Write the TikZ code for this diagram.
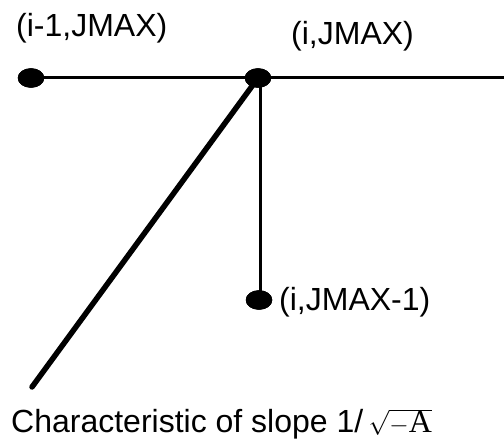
\documentclass[tikz,border=0pt]{standalone}
\usepackage{fontspec}
\setmainfont{Liberation Sans}
\newfontfamily\serifA{Liberation Serif}
\usetikzlibrary{shapes.geometric}
\begin{document}
\begin{tikzpicture}[x=1pt,y=-1pt,
  dot/.style={ellipse,fill=black,draw=black,minimum width=26pt,minimum height=19pt,inner sep=0pt},
  lbl/.style={anchor=base west,inner sep=0pt,font=\fontsize{32}{38}\selectfont},
  thin/.style={line width=3pt},
  thick line/.style={line width=5.5pt}]
\useasboundingbox (0,0) rectangle (504,443);
\coordinate (rend) at (504,78);
\coordinate (cend) at (32,387);
\node[dot] (a) at (31,78) {};
\node[dot] (b) at (258,78) {};
\node[dot] (c) at (259,300) {};
\draw[thin] (a.center) -- (b.center) -- (rend);
\draw[thin] (b.center) ++(2,0) coordinate (bv) -- (bv |- c.center);
\draw[thick line,line cap=round] (b.center) -- (cend);
\node[dot] at (a) {};
\node[dot] at (b) {};
\node[dot] at (c) {};
\node[lbl] (la) at (16,37) {(i-1,JMAX)};
\node[lbl] (lb) at (291,45) {(i,JMAX)};
\node[lbl] (lc) at (279,311) {(i,JMAX-1)};
\node[lbl] (ld) at (11,433) {Characteristic of slope 1/\,$\sqrt{-\hbox{\serifA A}}$};
\end{tikzpicture}
\end{document}
